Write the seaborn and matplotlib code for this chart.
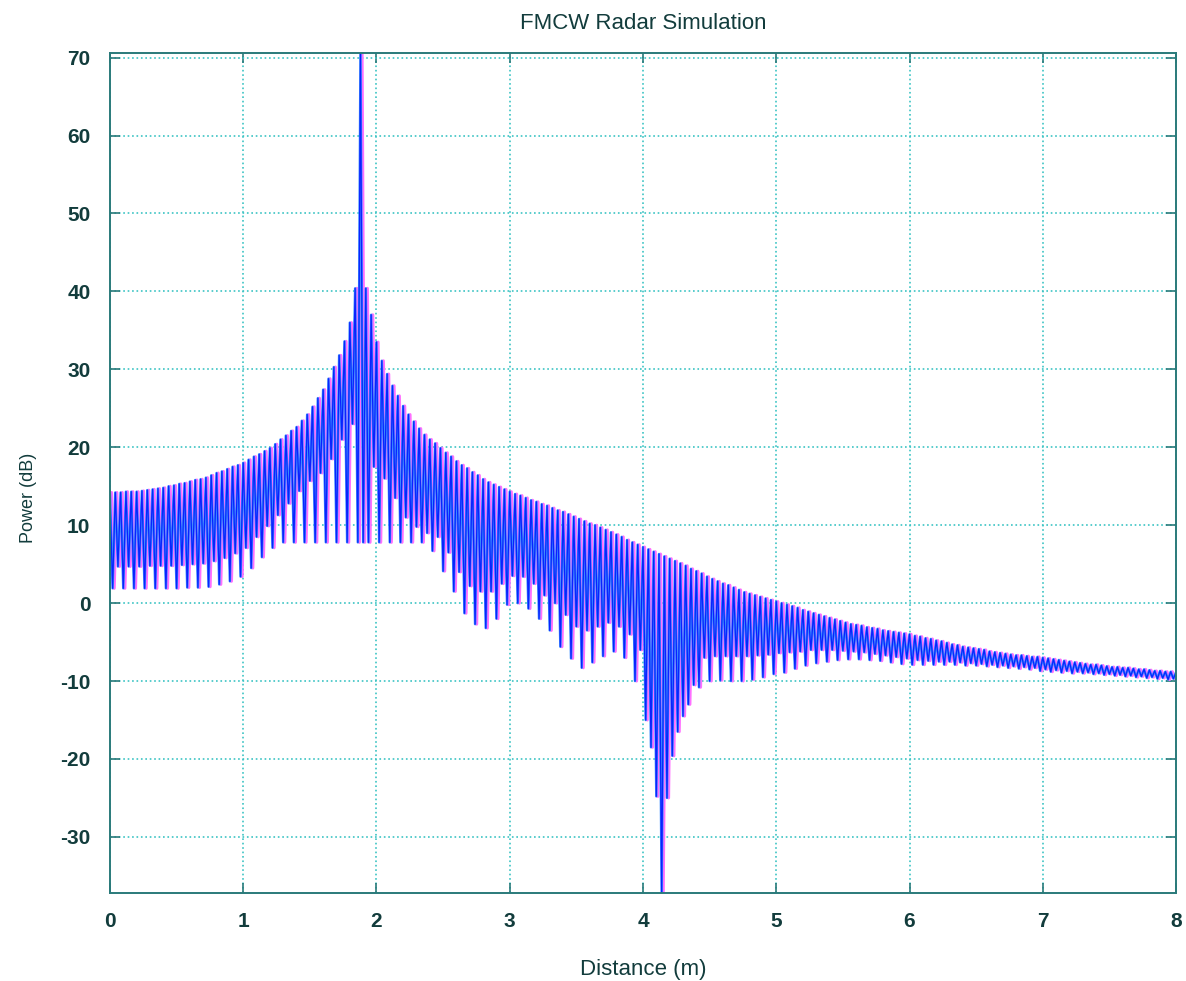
import numpy as np
import pandas as pd
import seaborn as sns
import matplotlib.pyplot as plt
from matplotlib.transforms import offset_copy

# sample spacing of the beat-frequency ripple (m)
step = 0.04

# peak values (dB) at 0, 0.04, ... 8.0 m, one row per metre
peak_db = [
    14.2, 14.2, 14.2, 14.3, 14.3, 14.3, 14.4, 14.5, 14.6, 14.7, 14.8, 15.0, 15.1,
    15.3, 15.4, 15.6, 15.8, 15.9, 16.1, 16.4, 16.7, 16.9, 17.2, 17.5, 17.7,
    18.0, 18.4, 18.8, 19.1, 19.5, 19.9, 20.4, 21.0, 21.5, 22.1, 22.6, 23.4, 24.2,
    25.2, 26.3, 27.4, 28.8, 30.3, 31.8, 33.6, 36.0, 40.4, 70.6, 40.4, 37.0,
    33.5, 31.1, 29.4, 27.9, 26.6, 25.3, 24.2, 23.3, 22.4, 21.6, 21.0, 20.5, 19.9,
    19.3, 18.8, 18.2, 17.7, 17.3, 16.8, 16.4, 15.9, 15.5, 15.2, 14.9, 14.6,
    14.3, 14.0, 13.8, 13.5, 13.2, 13.0, 12.7, 12.5, 12.2, 11.9, 11.7, 11.4, 11.1,
    10.8, 10.5, 10.2, 10.0, 9.7, 9.4, 9.1, 8.8, 8.5, 8.1, 7.8, 7.5,
    7.2, 6.9, 6.6, 6.3, 6.0, 5.7, 5.4, 5.1, 4.8, 4.4, 4.1, 3.8, 3.4,
    3.1, 2.8, 2.5, 2.3, 2.0, 1.7, 1.4, 1.2, 1.0, 0.8, 0.6, 0.4,
    0.2, 0.0, -0.2, -0.4, -0.6, -0.9, -1.1, -1.3, -1.5, -1.7, -1.9, -2.1, -2.3,
    -2.5, -2.7, -2.8, -2.9, -3.1, -3.2, -3.3, -3.5, -3.6, -3.7, -3.8, -3.9,
    -4.0, -4.2, -4.3, -4.5, -4.6, -4.8, -4.9, -5.1, -5.3, -5.4, -5.6, -5.7, -5.8,
    -5.9, -6.0, -6.2, -6.3, -6.4, -6.5, -6.6, -6.7, -6.7, -6.8, -6.9, -6.9,
    -7.0, -7.1, -7.2, -7.3, -7.4, -7.5, -7.6, -7.7, -7.8, -7.9, -7.9, -8.0, -8.1,
    -8.2, -8.2, -8.3, -8.3, -8.4, -8.5, -8.5, -8.6, -8.7, -8.7, -8.8, -8.8,
    -8.9,
]

# trough values (dB) half a step after each peak
trough_db = [
    1.9, 4.7, 1.9, 4.7, 1.9, 4.7, 1.9, 4.8, 1.9, 4.8, 1.9, 4.8, 1.9,
    4.9, 2.0, 5.0, 2.0, 5.1, 2.1, 5.4, 2.4, 5.8, 2.8, 6.4, 3.4,
    7.1, 4.5, 8.5, 5.9, 9.9, 7.1, 11.3, 7.8, 12.8, 7.8, 14.4, 7.8, 15.7,
    7.8, 16.7, 7.8, 18.5, 7.8, 21.0, 7.8, 23.0, 7.8, 7.8, 7.8, 17.5,
    7.8, 16.0, 7.8, 13.5, 7.8, 11.0, 7.8, 9.8, 7.8, 9.0, 6.7, 8.5, 4.1,
    6.5, 1.5, 4.0, -1.3, 2.2, -2.7, 1.5, -3.2, 1.5, -2.0, 2.5, -0.2,
    3.5, 0.0, 3.4, -0.7, 2.5, -2.0, 1.0, -3.5, 0.0, -5.6, -1.5, -7.1, -3.0,
    -8.3, -3.5, -7.6, -3.0, -6.8, -2.5, -6.2, -3.0, -7.0, -4.0, -10.0, -6.0,
    -15.0, -18.5, -24.8, -37.2, -25.0, -19.6, -16.5, -14.5, -13.0, -10.5, -10.8, -7.0, -10.0,
    -6.8, -9.9, -6.8, -10.0, -6.8, -10.0, -6.8, -9.8, -6.7, -9.5, -6.6, -9.1,
    -6.4, -8.9, -6.3, -8.4, -6.2, -8.0, -6.0, -7.7, -6.0, -7.5, -6.0, -7.3, -6.1,
    -7.2, -6.2, -7.2, -6.3, -7.3, -6.5, -7.4, -6.7, -7.6, -6.9, -7.8, -7.1,
    -7.9, -7.3, -7.9, -7.4, -7.9, -7.5, -7.9, -7.5, -7.9, -7.6, -8.0, -7.7, -8.0,
    -7.8, -8.1, -7.9, -8.2, -8.0, -8.3, -8.1, -8.4, -8.2, -8.5, -8.3, -8.7,
    -8.5, -8.8, -8.6, -8.9, -8.7, -9.0, -8.8, -9.0, -8.9, -9.1, -9.0, -9.2, -9.1,
    -9.3, -9.2, -9.4, -9.3, -9.5, -9.4, -9.6, -9.5, -9.7, -9.6, -9.8, -9.7,
]

x_ticks = [0, 1, 2, 3, 4, 5, 6, 7, 8]
y_ticks = [-30, -20, -10, 0, 10, 20, 30, 40, 50, 60, 70]

# interleave peaks and troughs into one trace
dist_peak = np.arange(len(peak_db)) * step
dist_trough = dist_peak[:-1] + step / 2
dist = np.empty(len(peak_db) + len(trough_db))
power = np.empty_like(dist)
dist[0::2] = dist_peak
dist[1::2] = dist_trough
power[0::2] = peak_db
power[1::2] = trough_db
df = pd.DataFrame({'Distance (m)': dist, 'Power (dB)': power})

sns.set_theme(style='white')
plt.rcParams['font.family'] = ['Liberation Sans', 'DejaVu Sans']

fig = plt.figure(figsize=(11.86, 9.81), dpi=100)
ax = fig.add_axes([0.0927, 0.0897, 0.8989, 0.8563])

# printed look: magenta ghost to the right, light blue and dark blue strokes
ghost = offset_copy(ax.transData, fig=fig, x=1.6, y=0, units='dots')
sns.lineplot(data=df, x='Distance (m)', y='Power (dB)', sort=False, estimator=None,
             color='#ff70ff', lw=2.2, ax=ax, transform=ghost)
sns.lineplot(data=df, x='Distance (m)', y='Power (dB)', sort=False, estimator=None,
             color='#3a8cff', lw=1.8, ax=ax)
sns.lineplot(data=df, x='Distance (m)', y='Power (dB)', sort=False, estimator=None,
             color='#0a22ff', lw=0.9, ax=ax)

ax.set_xlim(0, 8)
ax.set_ylim(min(trough_db), max(peak_db))
ax.set_xticks(x_ticks)
ax.set_yticks(y_ticks)
ax.set_xticklabels([str(t) for t in x_ticks], fontsize=15, fontweight='bold', color='#123c3c')
ax.set_yticklabels([str(t) for t in y_ticks], fontsize=15, fontweight='bold', color='#123c3c')
ax.tick_params(direction='in', length=7, width=1.2, color='#2a7a7a',
               top=True, right=True, bottom=True, left=True, pad=14)
ax.grid(True, linestyle=':', linewidth=1.2, color='#3cc4c4')
for s in ax.spines.values():
    s.set_color('#2a7a7a')
    s.set_linewidth(1.4)

ax.set_xlabel('Distance (m)', fontsize=16, color='#123c3c', labelpad=20)
ax.set_ylabel('Power (dB)', fontsize=13, color='#123c3c')
ax.yaxis.set_label_coords(-0.068, 0.47)
ax.set_title('FMCW Radar Simulation', fontsize=16, color='#123c3c', pad=17)

fig.savefig('out.png', dpi=100)
